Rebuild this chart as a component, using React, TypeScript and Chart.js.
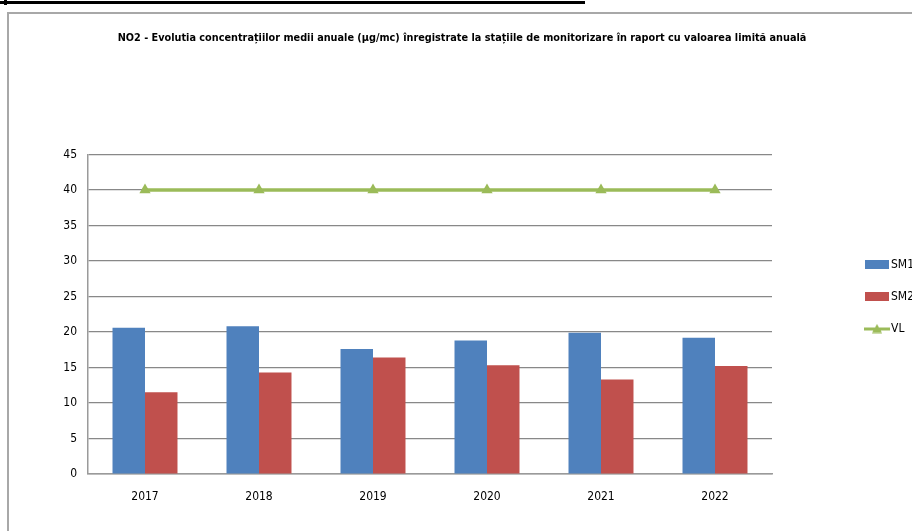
import React, { useEffect, useRef } from 'react';
import { Chart, registerables } from 'chart.js';

Chart.register(...registerables);

const categories = ['2017', '2018', '2019', '2020', '2021', '2022'];
const sm1Values = [20.6, 20.8, 17.6, 18.8, 19.9, 19.2];
const sm2Values = [11.5, 14.3, 16.4, 15.3, 13.3, 15.2];
const vlValues = [40, 40, 40, 40, 40, 40];
const seriesNames = ['SM1', 'SM2', 'VL'];
const yMin = 0;
const yMax = 45;
const yStep = 5;
const titleText =
  'NO2 - Evolutia concentrațiilor medii anuale (µg/mc) înregistrate la stațiile de monitorizare în raport cu valoarea limită anuală';

const BLUE = '#4F81BD';
const RED = '#C0504D';
const GREEN = '#9BBB59';
const FONT = "'DejaVu Sans Condensed', 'DejaVu Sans', sans-serif";

function makeBoxSwatch(color: string): HTMLCanvasElement {
  const c = document.createElement('canvas');
  c.width = 24;
  c.height = 9;
  const ctx = c.getContext('2d')!;
  ctx.fillStyle = color;
  ctx.fillRect(0, 0, 24, 9);
  return c;
}

function makeLineSwatch(color: string): HTMLCanvasElement {
  const c = document.createElement('canvas');
  c.width = 26;
  c.height = 10;
  const ctx = c.getContext('2d')!;
  ctx.fillStyle = color;
  ctx.fillRect(0, 4, 26, 3);
  ctx.beginPath();
  ctx.moveTo(13, 0.5);
  ctx.lineTo(18, 9.5);
  ctx.lineTo(8, 9.5);
  ctx.closePath();
  ctx.fill();
  return c;
}

export default function App() {
  const canvasRef = useRef<HTMLCanvasElement | null>(null);

  useEffect(() => {
    if (!canvasRef.current) return;
    const swatches = [makeBoxSwatch(BLUE), makeBoxSwatch(RED), makeLineSwatch(GREEN)];
    const chart = new Chart(canvasRef.current, {
      type: 'bar',
      data: {
        labels: categories,
        datasets: [
          {
            type: 'line',
            label: seriesNames[2],
            data: vlValues,
            borderColor: GREEN,
            backgroundColor: GREEN,
            borderWidth: 3.5,
            pointStyle: 'triangle',
            pointRadius: 6.5,
            pointBackgroundColor: GREEN,
            pointBorderColor: GREEN,
            pointBorderWidth: 0,
            tension: 0,
            order: 0,
          } as any,
          {
            label: seriesNames[0],
            data: sm1Values,
            backgroundColor: BLUE,
            borderWidth: 0,
            categoryPercentage: 0.57,
            barPercentage: 1.0,
            order: 1,
          },
          {
            label: seriesNames[1],
            data: sm2Values,
            backgroundColor: RED,
            borderWidth: 0,
            categoryPercentage: 0.57,
            barPercentage: 1.0,
            order: 1,
          },
        ],
      },
      options: {
        animation: false,
        responsive: false,
        maintainAspectRatio: false,
        layout: { padding: 0 },
        plugins: {
          title: {
            display: true,
            text: titleText,
            color: '#000',
            font: { family: FONT, size: 10.8, weight: 'bold', lineHeight: 1.2 },
            padding: { top: 17.5, bottom: 110 },
          },
          legend: {
            position: 'right',
            maxWidth: 66,
            title: {
              display: true,
              text: '',
              font: { family: FONT, size: 12, lineHeight: 1.2 },
              padding: { top: 0, bottom: 33.6 },
            },
            labels: {
              usePointStyle: true,
              pointStyleWidth: 16,
              padding: 20,
              color: '#000',
              font: { family: FONT, size: 12 },
              generateLabels: (ch: any) => {
                const items = Chart.defaults.plugins.legend.labels.generateLabels(ch);
                const orderMap = [2, 0, 1];
                const mapped = items.map((it: any) => {
                  const idx = it.datasetIndex;
                  const sw = idx === 0 ? swatches[2] : idx === 1 ? swatches[0] : swatches[1];
                  return { ...it, pointStyle: sw };
                });
                mapped.sort((a: any, b: any) => orderMap[a.datasetIndex] - orderMap[b.datasetIndex]);
                return mapped;
              },
            },
          },
          tooltip: { enabled: false },
        },
        scales: {
          x: {
            grid: { display: false, drawTicks: false },
            border: { display: true, color: '#9a9a9a', width: 1.5 },
            ticks: { color: '#000', font: { family: FONT, size: 12 }, padding: 16 },
            afterFit: (s: any) => {
              s.height = 57;
            },
          },
          y: {
            min: yMin,
            max: yMax,
            ticks: { stepSize: yStep, color: '#000', font: { family: FONT, size: 12 }, padding: 11 },
            grid: { color: '#888888', lineWidth: 1.2, drawTicks: false },
            border: { display: true, color: '#9a9a9a', width: 1.5 },
            afterFit: (s: any) => {
              s.width = 79;
            },
          },
          yspacer: {
            position: 'right',
            display: true,
            min: yMin,
            max: yMax,
            grid: { display: false, drawTicks: false },
            ticks: { display: false },
            border: { display: false },
            afterFit: (s: any) => {
              s.width = 77;
            },
          },
        },
      } as any,
    });
    return () => chart.destroy();
  }, []);

  return (
    <div
      style={{
        position: 'absolute',
        left: 0,
        top: 0,
        width: 912,
        height: 531,
        overflow: 'hidden',
        background: '#fff',
      }}
    >
      <div style={{ position: 'absolute', left: 0, top: 1, width: 585, height: 3, background: '#000' }} />
      <div style={{ position: 'absolute', left: 4, top: 0, width: 3, height: 5, background: '#000' }} />
      <div
        style={{
          position: 'absolute',
          left: 7,
          top: 12,
          width: 920,
          height: 540,
          borderLeft: '2px solid #a8a8a8',
          borderTop: '2px solid #a8a8a8',
        }}
      />
      <canvas
        ref={canvasRef}
        width={906}
        height={517}
        style={{ position: 'absolute', left: 9, top: 14, width: 906, height: 517 }}
      />
    </div>
  );
}
